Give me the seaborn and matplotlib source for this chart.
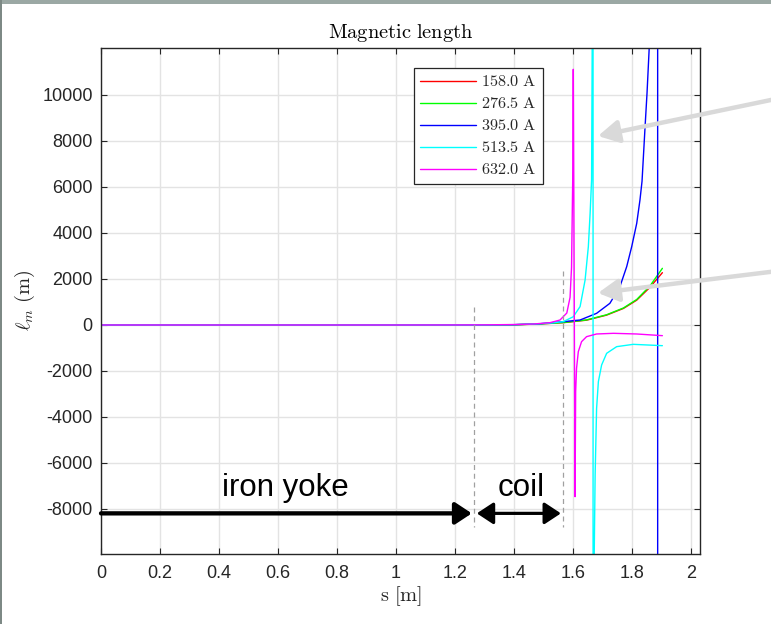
import numpy as np
import pandas as pd
import matplotlib
matplotlib.use("Agg")
import matplotlib.pyplot as plt
import seaborn as sns
from matplotlib.patches import Rectangle, FancyArrowPatch

# ---------------- data ----------------
currents = ["158.0 A", "276.5 A", "395.0 A", "513.5 A", "632.0 A"]
colors = ["#ff0000", "#00ff00", "#0000ff", "#00ffff", "#ff00ff"]

s_158 = [0, 0.4, 0.8, 1.0, 1.2, 1.3, 1.4, 1.48, 1.567, 1.646, 1.714, 1.771, 1.816, 1.861, 1.903]
lm_158 = [0, 0, 0, 0, 1, 3, 10, 40, 100, 210, 430, 720, 1080, 1640, 2275]

s_276 = [0, 0.4, 0.8, 1.0, 1.2, 1.3, 1.4, 1.48, 1.567, 1.646, 1.714, 1.771, 1.816, 1.861, 1.903]
lm_276 = [0, 0, 0, 0, 1, 3, 11, 42, 105, 220, 445, 740, 1110, 1700, 2464]

s_395 = [0, 0.4, 0.8, 1.0, 1.2, 1.3, 1.4, 1.48, 1.567, 1.624, 1.680, 1.725, 1.759, 1.782,
         1.799, 1.816, 1.827, 1.834, 1.844, 1.851, 1.858, 1.872, 1.886, 1.888, 1.903]
lm_395 = [0, 0, 0, 0, 1, 4, 13, 45, 145, 217, 507, 942, 1667, 2536,
          3406, 4420, 5435, 6250, 8550, 10100, 11957, 30000, 500000, -500000, -40000]

s_513 = [0, 0.4, 0.8, 1.0, 1.2, 1.3, 1.4, 1.48, 1.53, 1.567, 1.601, 1.624, 1.641, 1.652,
         1.658, 1.663, 1.665, 1.6675, 1.6685, 1.670, 1.672, 1.675, 1.680, 1.686, 1.697,
         1.714, 1.748, 1.804, 1.903]
lm_513 = [0, 0, 0, 0, 1, 4, 15, 50, 90, 145, 360, 800, 1957, 3406,
          4855, 6304, 11957, 200000, -200000, -30000, -9926, -6522, -3623, -2464, -1739,
          -1232, -942, -841, -899]

s_632 = [0, 0.4, 0.8, 1.0, 1.2, 1.3, 1.4, 1.466, 1.522, 1.556, 1.579, 1.590, 1.595, 1.599,
         1.601, 1.607, 1.609, 1.612, 1.618, 1.629, 1.646, 1.680, 1.737, 1.816, 1.903]
lm_632 = [0, 0, 0, 0, 2, 6, 20, 43, 100, 217, 520, 1200, 2500, 6304,
          11117, -7464, -2899, -1884, -1159, -725, -507, -391, -362, -391, -464]

legend_labels = [r"$158.0\ \mathrm{A}$", r"$276.5\ \mathrm{A}$", r"$395.0\ \mathrm{A}$",
                 r"$513.5\ \mathrm{A}$", r"$632.0\ \mathrm{A}$"]

x_ticks = [0, 0.2, 0.4, 0.6, 0.8, 1, 1.2, 1.4, 1.6, 1.8, 2]
x_ticklabels = ["0", "0.2", "0.4", "0.6", "0.8", "1", "1.2", "1.4", "1.6", "1.8", "2"]
y_ticks = [-8000, -6000, -4000, -2000, 0, 2000, 4000, 6000, 8000, 10000]
y_ticklabels = ["-8000", "-6000", "-4000", "-2000", "0", "2000", "4000", "6000", "8000", "10000"]

# annotation positions
yoke_end = 1.257
coil_start, coil_end = 1.274, 1.559
arrow_y = -8190
dash1_x, dash2_x = 1.266, 1.565
dash1_top, dash2_top, dash_bottom = 800, 2330, -8770

# ---------------- build table ----------------
frames = []
for name, s, lm in zip(currents, [s_158, s_276, s_395, s_513, s_632],
                       [lm_158, lm_276, lm_395, lm_513, lm_632]):
    frames.append(pd.DataFrame({"s": s, "lm": lm, "current": name}))
df = pd.concat(frames, ignore_index=True)

# ---------------- style ----------------
sns.set_style("white")
plt.rcParams["font.family"] = ["Liberation Sans", "DejaVu Sans"]
plt.rcParams["mathtext.fontset"] = "cm"
plt.rcParams["axes.unicode_minus"] = False

fig = plt.figure(figsize=(7.71, 6.24), dpi=100)
ax = fig.add_axes([101 / 771, 1 - 553.5 / 624, 599 / 771, 505.5 / 624])

sns.lineplot(data=df, x="s", y="lm", hue="current", hue_order=currents,
             palette=dict(zip(currents, colors)), estimator=None, sort=False,
             linewidth=1.0, legend=False, ax=ax)

ax.set_xlim(0, 2.0305)
ax.set_ylim(-9935, 12043)
ax.set_xticks(x_ticks)
ax.set_xticklabels(x_ticklabels)
ax.set_yticks(y_ticks)
ax.set_yticklabels(y_ticklabels)

dark = "#262626"
ax.grid(True, color="#e3e3e3", linewidth=1.0)
ax.set_axisbelow(True)
for sp in ax.spines.values():
    sp.set_visible(True)
    sp.set_color(dark)
    sp.set_linewidth(1.0)
ax.tick_params(axis="both", which="major", direction="in", length=4.5, width=0.8,
               colors=dark, labelcolor=dark, labelsize=13,
               top=True, right=True, bottom=True, left=True)
ax.tick_params(axis="x", pad=8)
ax.tick_params(axis="y", pad=6)

ax.set_title(r"$\mathrm{Magnetic\ length}$", fontsize=14.7, color="black", pad=7)
ax.set_xlabel(r"$\mathrm{s}\ [\mathrm{m}]$", fontsize=14.7, color=dark, labelpad=2)
ax.set_ylabel(r"$\ell_m\ \mathrm{(m)}$", fontsize=14.7, color=dark, labelpad=4)

leg = ax.legend(handles=ax.lines[:5], labels=legend_labels, loc="upper left",
                bbox_to_anchor=(0.5225, 0.960), borderaxespad=0, fontsize=11.7,
                handlelength=3.45, handletextpad=0.3, labelspacing=0.43,
                borderpad=0.38, fancybox=False, framealpha=1, edgecolor=dark)
leg.get_frame().set_linewidth(0.9)

# dashed region markers
ax.plot([dash1_x, dash1_x], [dash1_top, dash_bottom], ls=(0, (4, 3)), color="#a0a0a0", lw=0.9)
ax.plot([dash2_x, dash2_x], [dash2_top, dash_bottom], ls=(0, (4, 3)), color="#a0a0a0", lw=0.9)

# black arrows
ax.annotate("", xy=(yoke_end, arrow_y), xytext=(0, arrow_y),
            arrowprops=dict(arrowstyle="-|>,head_length=0.5,head_width=0.33",
                            color="black", lw=3.1, mutation_scale=20,
                            shrinkA=0, shrinkB=0), annotation_clip=False)
ax.annotate("", xy=(coil_end, arrow_y), xytext=(coil_start, arrow_y),
            arrowprops=dict(arrowstyle="<|-|>,head_length=0.5,head_width=0.33",
                            color="black", lw=2.3, mutation_scale=20,
                            shrinkA=0, shrinkB=0))

ax.text(0.624, -7435, "iron yoke", fontsize=22.5, ha="center", va="baseline", color="black")
ax.text(1.424, -7435, "coil", fontsize=22.5, ha="center", va="baseline", color="black")

# gray pointer arrows (figure pixels -> fractions)
W, H = 771.0, 624.0
for tail, tip in [((790, 96), (598, 136)), ((790, 269.5), (598, 293))]:
    arr = FancyArrowPatch((tail[0] / W, 1 - tail[1] / H), (tip[0] / W, 1 - tip[1] / H),
                          transform=fig.transFigure,
                          arrowstyle="-|>,head_length=0.62,head_width=0.34",
                          mutation_scale=20, color="#d9d9d9", lw=3.2,
                          shrinkA=0, shrinkB=0)
    fig.add_artist(arr)

# window frame
fig.add_artist(Rectangle((0, 1 - 4 / H), 1, 4 / H, transform=fig.transFigure,
                         color="#9ba8a4", lw=0))
fig.add_artist(Rectangle((0, 0), 1.6 / W, 1, transform=fig.transFigure,
                         color="#7d8985", lw=0))

fig.savefig("out.png", dpi=100)
